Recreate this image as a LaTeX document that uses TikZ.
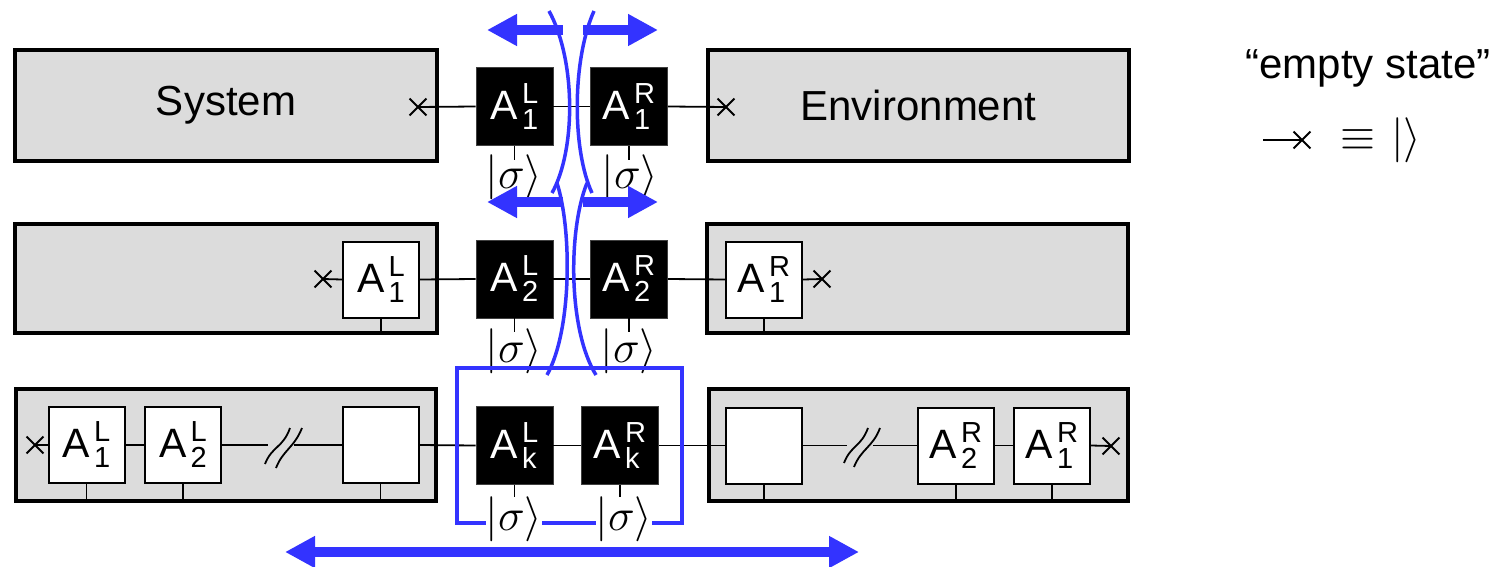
\RequirePackage{fix-cm}
\documentclass[tikz,border=0pt]{standalone}
\usepackage{fontspec}
\setmainfont{Liberation Sans}
\usetikzlibrary{arrows.meta,shapes.misc}
\definecolor{boxgray}{RGB}{220,220,220}
\definecolor{blueA}{RGB}{51,51,255}
\newcommand{\opscr}{\fontsize{29}{29}\selectfont}
\newcommand{\ketfont}{\fontsize{45}{50}\selectfont}
\newcommand{\Aop}[2]{%
  A\kern4pt
  \setbox0=\hbox{\opscr #1}\setbox2=\hbox{\opscr #2}%
  \ifdim\wd0>\wd2 \dimen0=\wd0 \else \dimen0=\wd2 \fi
  \rlap{\raise16pt\box0}\rlap{\lower10pt\box2}\kern\dimen0}
\tikzset{
  graybox/.style={draw, line width=4pt, fill=boxgray, inner sep=0pt, font=\fontsize{42}{48}\selectfont},
  blk/.style={fill=black, draw=black!75, line width=0.8pt, minimum width=77pt, minimum height=78pt, inner sep=0pt, text=white, font=\fontsize{41}{44}\selectfont},
  wht/.style={fill=white, draw=black, line width=2pt, minimum width=76pt, minimum height=76pt, inner sep=0pt, font=\fontsize{41}{44}\selectfont},
  ket/.style={inner sep=0pt, font=\ketfont},
  xm/.style={cross out, draw, minimum size=15pt, inner sep=0pt, line width=1.8pt},
  wire/.style={line width=1.8pt},
  blueline/.style={draw=blueA, line width=3.5pt},
  bigarrow/.style={blueA, line width=10pt, >={Triangle[width=30pt,length=30pt]}},
}
\begin{document}
\begin{tikzpicture}[x=1pt,y=-1pt]
\useasboundingbox (0,0) rectangle (1504,567);

% ---------- gray blocks ----------
\node[graybox, minimum width=422pt, minimum height=111pt] (sys1) at (226,105.5) {System};
\node[graybox, minimum width=421pt, minimum height=111pt] (env1) at (918.5,105.5) {Environment};
\node[graybox, minimum width=422pt, minimum height=109pt] (sys2) at (226,278.5) {};
\node[graybox, minimum width=421pt, minimum height=109pt] (env2) at (917.5,278.5) {};
\node[graybox, minimum width=420pt, minimum height=112pt] (sys3) at (226,445) {};
\node[graybox, minimum width=419pt, minimum height=112pt] (env3) at (918.5,445) {};

% ---------- row 1 ----------
\node[blk] (AL1) at (514.5,106.5) {\Aop{L}{1}};
\node[blk] (AR1) at (629,106.5) {\Aop{R}{1}};
\node[xm] (x1) at (418,107) {};
\node[xm] (x2) at (726,107) {};
\draw[wire] (x1.center) -- (AL1.west);
\draw[wire] (AL1.east) -- (AR1.west);
\draw[wire] (AR1.east) -- (x2.center);
\draw[wire] (AL1.south) -- ++(0,14);
\draw[wire] (AR1.south) -- ++(0,14);
\node[ket] (kL1) at (514,177) {$|\sigma\rangle$};
\node[ket] (kR1) at (630,177) {$|\sigma\rangle$};

% ---------- row 2 ----------
\node[wht] (wL1) at (381,279.5) {\Aop{L}{1}};
\node[blk] (AL2) at (514.5,279) {\Aop{L}{2}};
\node[blk] (AR2) at (629,279) {\Aop{R}{2}};
\node[wht] (wR1) at (764,279.5) {\Aop{R}{1}};
\node[xm] (x3) at (323,279) {};
\node[xm] (x4) at (822,279) {};
\draw[wire] (x3.center) -- (wL1.west);
\draw[wire] (wL1.east) -- (AL2.west);
\draw[wire] (AL2.east) -- (AR2.west);
\draw[wire] (AR2.east) -- (wR1.west);
\draw[wire] (wR1.east) -- (x4.center);
\draw[wire] (wL1.south) -- (wL1.south |- sys2.south);
\draw[wire] (wR1.south) -- (wR1.south |- env2.south);
\draw[wire] (AL2.south) -- ++(0,14);
\draw[wire] (AR2.south) -- ++(0,14);
\node[ket] (kL2) at (514,351) {$|\sigma\rangle$};
\node[ket] (kR2) at (629,351) {$|\sigma\rangle$};

% ---------- row 3 ----------
\node[wht] (w31) at (86.5,445) {\Aop{L}{1}};
\node[wht] (w32) at (183,445) {\Aop{L}{2}};
\node[wht] (w3e) at (380.5,445) {};
\node[blk] (ALk) at (514.5,445.5) {\Aop{L}{k}};
\node[blk] (ARk) at (620,445.5) {\Aop{R}{k}};
\node[wht] (e3e) at (764,445.5) {};
\node[wht] (e32) at (956,445.5) {\Aop{R}{2}};
\node[wht] (e31) at (1052,445.5) {\Aop{R}{1}};
\node[xm] (x5) at (35,445) {};
\node[xm] (x6) at (1111,446) {};
\coordinate (b1a) at (268,445);
\coordinate (b1b) at (294,445);
\coordinate (b2a) at (847,445.5);
\coordinate (b2b) at (873,445.5);
\draw[wire] (x5.center) -- (w31.west);
\draw[wire] (w31.east) -- (w32.west);
\draw[wire] (w32.east) -- (b1a);
\draw[wire] (b1b) -- (w3e.west);
\draw[wire] (w3e.east) -- (ALk.west);
\draw[wire] (ALk.east) -- (ARk.west);
\draw[wire] (ARk.east) -- (e3e.west);
\draw[wire] (e3e.east) -- (b2a);
\draw[wire] (b2b) -- (e32.west);
\draw[wire] (e32.east) -- (e31.west);
\draw[wire] (e31.east) -- (x6.center);
% break marks
\draw[wire] (265,464) .. controls (272,446) and (283,448) .. (290,428);
\draw[wire] (276,468) .. controls (283,450) and (294,448) .. (302,428);
\draw[wire] (844,463) .. controls (851,445) and (861,447) .. (868,428);
\draw[wire] (854,467) .. controls (861,449) and (873,447) .. (880,428);
% stems to block bottom
\foreach \n in {w31,w32,w3e}{\draw[wire] (\n.south) -- (\n.south |- sys3.south);}
\foreach \n in {e3e,e32,e31}{\draw[wire] (\n.south) -- (\n.south |- env3.south);}
\draw[wire] (ALk.south) -- ++(0,12);
\draw[wire] (ARk.south) -- ++(0,12);

% ---------- blue frame and kets ----------
\draw[blueline] (457,368) rectangle (682,523);
\node[ket, fill=white] (kLk) at (514,519) {$|\sigma\rangle$};
\node[ket, fill=white] (kRk) at (624,519) {$|\sigma\rangle$};

% ---------- blue arrows ----------
\coordinate (a1s) at (563,30);  \coordinate (a1e) at (487,30);
\coordinate (a2s) at (583,30);  \coordinate (a2e) at (658,30);
\coordinate (a3s) at (563,202); \coordinate (a3e) at (487,202);
\coordinate (a4s) at (583,202); \coordinate (a4e) at (658,202);
\coordinate (a5s) at (285,552); \coordinate (a5e) at (859,552);
\draw[bigarrow,->] (a1s) -- (a1e);
\draw[bigarrow,->] (a2s) -- (a2e);
\draw[bigarrow,->] (a3s) -- (a3e);
\draw[bigarrow,->] (a4s) -- (a4e);
\draw[bigarrow,<->] (a5s) -- (a5e);

% ---------- blue curves ----------
\draw[blueline] (549,11) .. controls (576,60) and (576,150) .. (552,193);
\draw[blueline] (594,11) .. controls (572,60) and (572,150) .. (592,193);
\draw[blueline] (557,183) .. controls (572,230) and (572,330) .. (547,375);
\draw[blueline] (587,183) .. controls (568,230) and (568,330) .. (596,375);

% ---------- legend ----------
\node[font=\fontsize{42}{48}\selectfont] (leg) at (1368,68) {“empty state”};
\node[xm] (lx) at (1302,140) {};
\coordinate (lstart) at (1263,140);
\draw[wire] (lstart) -- (lx.center);
\node[ket] (leq) at (1358,140) {$\equiv$};
\node[ket] (lket) at (1406,140) {$|\rangle$};
\end{tikzpicture}
\end{document}
